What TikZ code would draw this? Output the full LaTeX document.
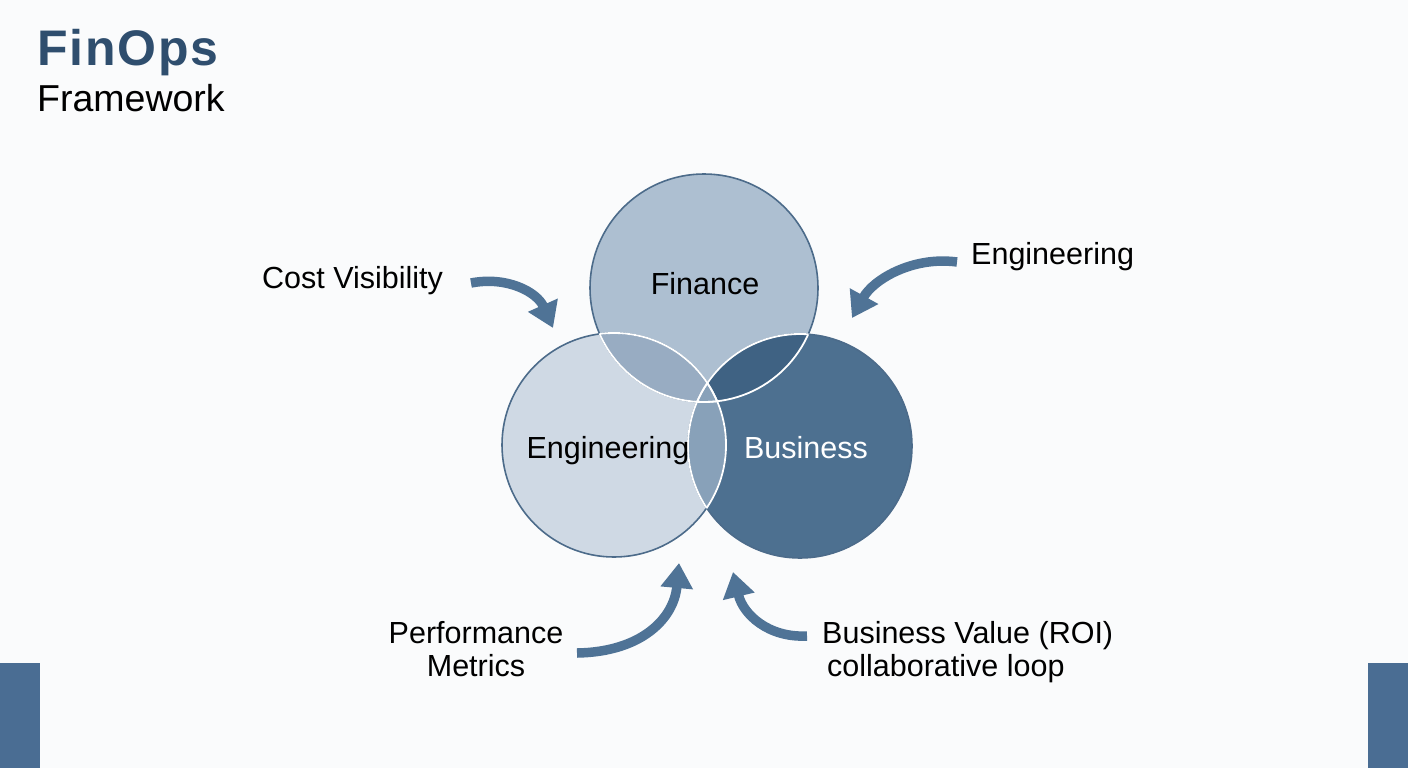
\documentclass[tikz,border=0pt]{standalone}
\usepackage{fontspec}
\setmainfont{Liberation Sans}
\usetikzlibrary{arrows.meta}
\definecolor{bgc}{HTML}{FAFBFC}
\definecolor{titlec}{HTML}{2F4E6E}
\definecolor{engc}{HTML}{CFD9E4}
\definecolor{finc}{HTML}{ADBFD1}
\definecolor{busc}{HTML}{4D7090}
\definecolor{fec}{HTML}{98ACC2}
\definecolor{fbc}{HTML}{3F6283}
\definecolor{ebc}{HTML}{88A1B9}
\definecolor{strokec}{HTML}{4C6B8A}
\definecolor{arrowc}{HTML}{4F7396}
\definecolor{barc}{HTML}{4A6D93}
\tikzset{
  setcircle/.style={circle, inner sep=0pt, minimum size=#1},
  lbl/.style={font=\fontsize{30.5}{33}\selectfont, text=black, inner sep=0pt},
  flow/.style={draw=arrowc, line width=9.5pt, -{Triangle[length=25pt,width=31pt]}},
}
\begin{document}
\begin{tikzpicture}[x=1pt,y=-1pt]
\fill[bgc] (0,0) rectangle (1408,768);
\useasboundingbox (0,0) rectangle (1408,768);
% side bars
\fill[barc] (0,663) rectangle (40,768);
\fill[barc] (1368,663) rectangle (1408,768);
% title
\node[anchor=base west, inner sep=0pt, text=titlec, font=\fontsize{50}{54}\selectfont\bfseries\addfontfeatures{LetterSpace=3.5}] (title) at (37,66) {FinOps};
\node[anchor=base west, inner sep=0pt, text=black, font=\fontsize{37.5}{40}\selectfont] (subtitle) at (37,111) {Framework};
% circles
\def\FC{(704,288) circle[radius=114pt]}
\def\EC{(614,445) circle[radius=112pt]}
\def\BC{(800,446) circle[radius=112pt]}
\node[setcircle=228pt] (fin) at (704,288) {};
\node[setcircle=224pt] (eng) at (614,445) {};
\node[setcircle=224pt] (bus) at (800,446) {};
\fill[engc] \EC;
\fill[finc] \FC;
\fill[busc] \BC;
\begin{scope}
  \clip \FC;
  \fill[fec] \EC;
  \fill[fbc] \BC;
\end{scope}
\begin{scope}
  \clip \EC;
  \fill[ebc] \BC;
\end{scope}
\draw[strokec, line width=1.6pt] \FC;
\draw[strokec, line width=1.6pt] \EC;
\draw[strokec, line width=1.6pt] \BC;
\begin{scope}
  \clip \EC;
  \draw[white, line width=1.8pt] \FC;
  \draw[white, line width=1.8pt] \BC;
\end{scope}
\begin{scope}
  \clip \FC;
  \draw[white, line width=1.8pt] \EC;
  \draw[white, line width=1.8pt] \BC;
\end{scope}
\begin{scope}
  \clip \BC;
  \draw[white, line width=1.8pt] \EC;
  \draw[white, line width=1.8pt] \FC;
\end{scope}
% circle labels
\node[lbl, anchor=base] (tfin) at (705,294) {Finance};
\node[lbl, anchor=base] (teng) at (608,458) {Engineering};
\node[lbl, anchor=base, text=white] (tbus) at (806,458) {Business};
% outer labels
\node[lbl, anchor=base west] (cost) at (262,288) {Cost Visibility};
\node[lbl, anchor=base west] (engr) at (971,264) {Engineering};
\node[lbl, anchor=base, align=center] (perf) at (476,676) {Performance\\Metrics};
\node[lbl, anchor=base west, align=left] (bval) at (822,676) {Business Value (ROI)\\\hspace{5pt}collaborative loop};
% arrow end points
\coordinate (a1s) at (471,283);
\coordinate (a1e) at (553,328);
\coordinate (a2s) at (957,262);
\coordinate (a2e) at (852,318);
\coordinate (a3s) at (577,653);
\coordinate (a3e) at (679,563);
\coordinate (a4s) at (807,636);
\coordinate (a4e) at (733,572);
\draw[flow] (a1s) .. controls (507,276) and (537,292) .. (a1e);
\draw[flow] (a2s) .. controls (912,256) and (873,280) .. (a2e);
\draw[flow] (a3s) .. controls (642,652) and (674,618) .. (a3e);
\draw[flow] (a4s) .. controls (768,638) and (743,614) .. (a4e);
\end{tikzpicture}
\end{document}
